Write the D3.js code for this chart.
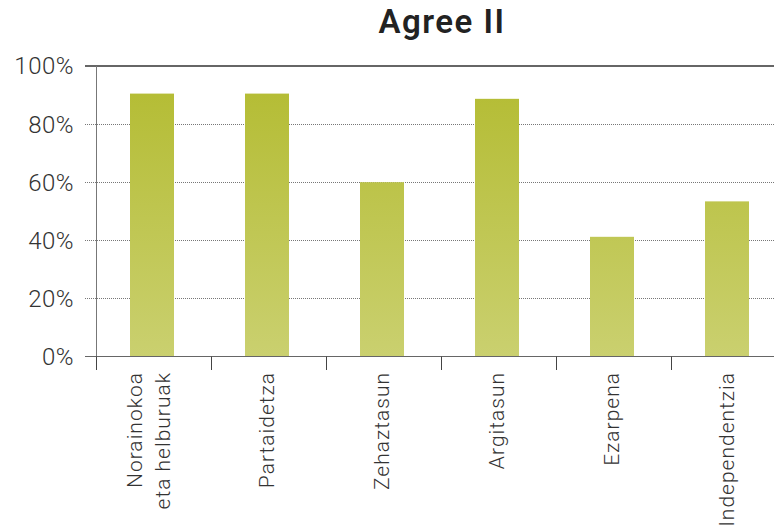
<!DOCTYPE html>
<html>
<head>
<meta charset="utf-8">
<script src="https://cdn.jsdelivr.net/npm/d3@7"></script>
<style>
  body { margin: 0; background: #fff; }
  svg { display: block; }
</style>
</head>
<body>
<svg id="chart" width="774" height="530"></svg>
<script>
var categories = [["Norainokoa", "eta helburuak"], ["Partaidetza"], ["Zehaztasun"], ["Argitasun"], ["Ezarpena"], ["Independentzia"]];
var values = [90.5, 90.5, 60, 88.7, 41.2, 53.4];
var yTicks = [0, 20, 40, 60, 80, 100];
var title = "Agree II";

var svg = d3.select("#chart");
var font = "Roboto, 'DejaVu Sans', sans-serif";

var keys = categories.map(function(c) { return c.join(" "); });

var x = d3.scaleBand()
    .domain(keys)
    .range([96.5, 786.5])
    .padding(0);

var y = d3.scaleLinear()
    .domain([0, 100])
    .range([356.5, 66]);

var defs = svg.append("defs");
var grad = defs.append("linearGradient")
    .attr("id", "barGrad")
    .attr("gradientUnits", "userSpaceOnUse")
    .attr("x1", 0).attr("y1", y(90)).attr("x2", 0).attr("y2", y(0));
grad.append("stop").attr("offset", "0%").attr("stop-color", "#b5bd36");
grad.append("stop").attr("offset", "100%").attr("stop-color", "#cad06f");

// title
svg.append("text")
    .attr("x", 442)
    .attr("y", 33)
    .attr("text-anchor", "middle")
    .style("font-family", font)
    .style("font-weight", "600")
    .style("font-size", "33px")
    .style("letter-spacing", "1.5px")
    .style("fill", "#222")
    .text(title);

// grid lines
svg.append("g")
    .selectAll("line")
    .data(yTicks.filter(function(t) { return t > 0 && t < 100; }))
    .enter().append("line")
    .attr("x1", 85).attr("x2", 774)
    .attr("y1", function(d) { return Math.round(y(d)) + 0.5; })
    .attr("y2", function(d) { return Math.round(y(d)) + 0.5; })
    .attr("stroke", "#777")
    .attr("stroke-width", 1)
    .attr("stroke-dasharray", "1,1");

// bars
var barW = 44;
svg.append("g")
    .selectAll("rect")
    .data(values)
    .enter().append("rect")
    .attr("x", function(d, i) { return x(keys[i]) + 33.5; })
    .attr("y", function(d) { return y(d); })
    .attr("width", barW)
    .attr("height", function(d) { return y(0) - y(d); })
    .attr("fill", "url(#barGrad)");

// top line (100%)
svg.append("line")
    .attr("x1", 85).attr("x2", 774)
    .attr("y1", y(100)).attr("y2", y(100))
    .attr("stroke", "#333")
    .attr("stroke-width", 1.5);

// y axis line
svg.append("line")
    .attr("x1", 96.5).attr("x2", 96.5)
    .attr("y1", y(100)).attr("y2", 370)
    .attr("stroke", "#777")
    .attr("stroke-width", 1);

// baseline
svg.append("line")
    .attr("x1", 85).attr("x2", 774)
    .attr("y1", y(0)).attr("y2", y(0))
    .attr("stroke", "#666")
    .attr("stroke-width", 1.2);

// y tick labels
svg.append("g")
    .selectAll("text")
    .data(yTicks)
    .enter().append("text")
    .attr("x", 74)
    .attr("y", function(d) { return y(d); })
    .attr("dy", "0.35em")
    .attr("text-anchor", "end")
    .style("font-family", font)
    .style("font-weight", "300")
    .style("font-size", "24px")
    .style("letter-spacing", "0.5px")
    .style("fill", "#333")
    .text(function(d) { return d + "%"; });

// x category ticks
svg.append("g")
    .selectAll("line")
    .data(keys)
    .enter().append("line")
    .attr("x1", function(d) { return x(d); })
    .attr("x2", function(d) { return x(d); })
    .attr("y1", y(0)).attr("y2", 370)
    .attr("stroke", "#444")
    .attr("stroke-width", 1);

// x labels, rotated
var labels = svg.append("g")
    .selectAll("g")
    .data(categories)
    .enter().append("g")
    .attr("transform", function(d, i) {
      var cx = x(keys[i]) + x.bandwidth() / 2 - 2 - (d.length > 1 ? 3 : 0);
      return "translate(" + cx + ",372) rotate(-90)";
    });

labels.each(function(d) {
  var g = d3.select(this);
  var n = d.length;
  d.forEach(function(line, j) {
    g.append("text")
      .attr("x", 0)
      .attr("y", (j - (n - 1) / 2) * 28)
      .attr("dy", "0.35em")
      .attr("text-anchor", "end")
      .style("font-family", font)
      .style("font-weight", "300")
      .style("font-size", "21px")
      .style("letter-spacing", "1px")
      .style("fill", "#333")
      .text(line);
  });
});
</script>
</body>
</html>
